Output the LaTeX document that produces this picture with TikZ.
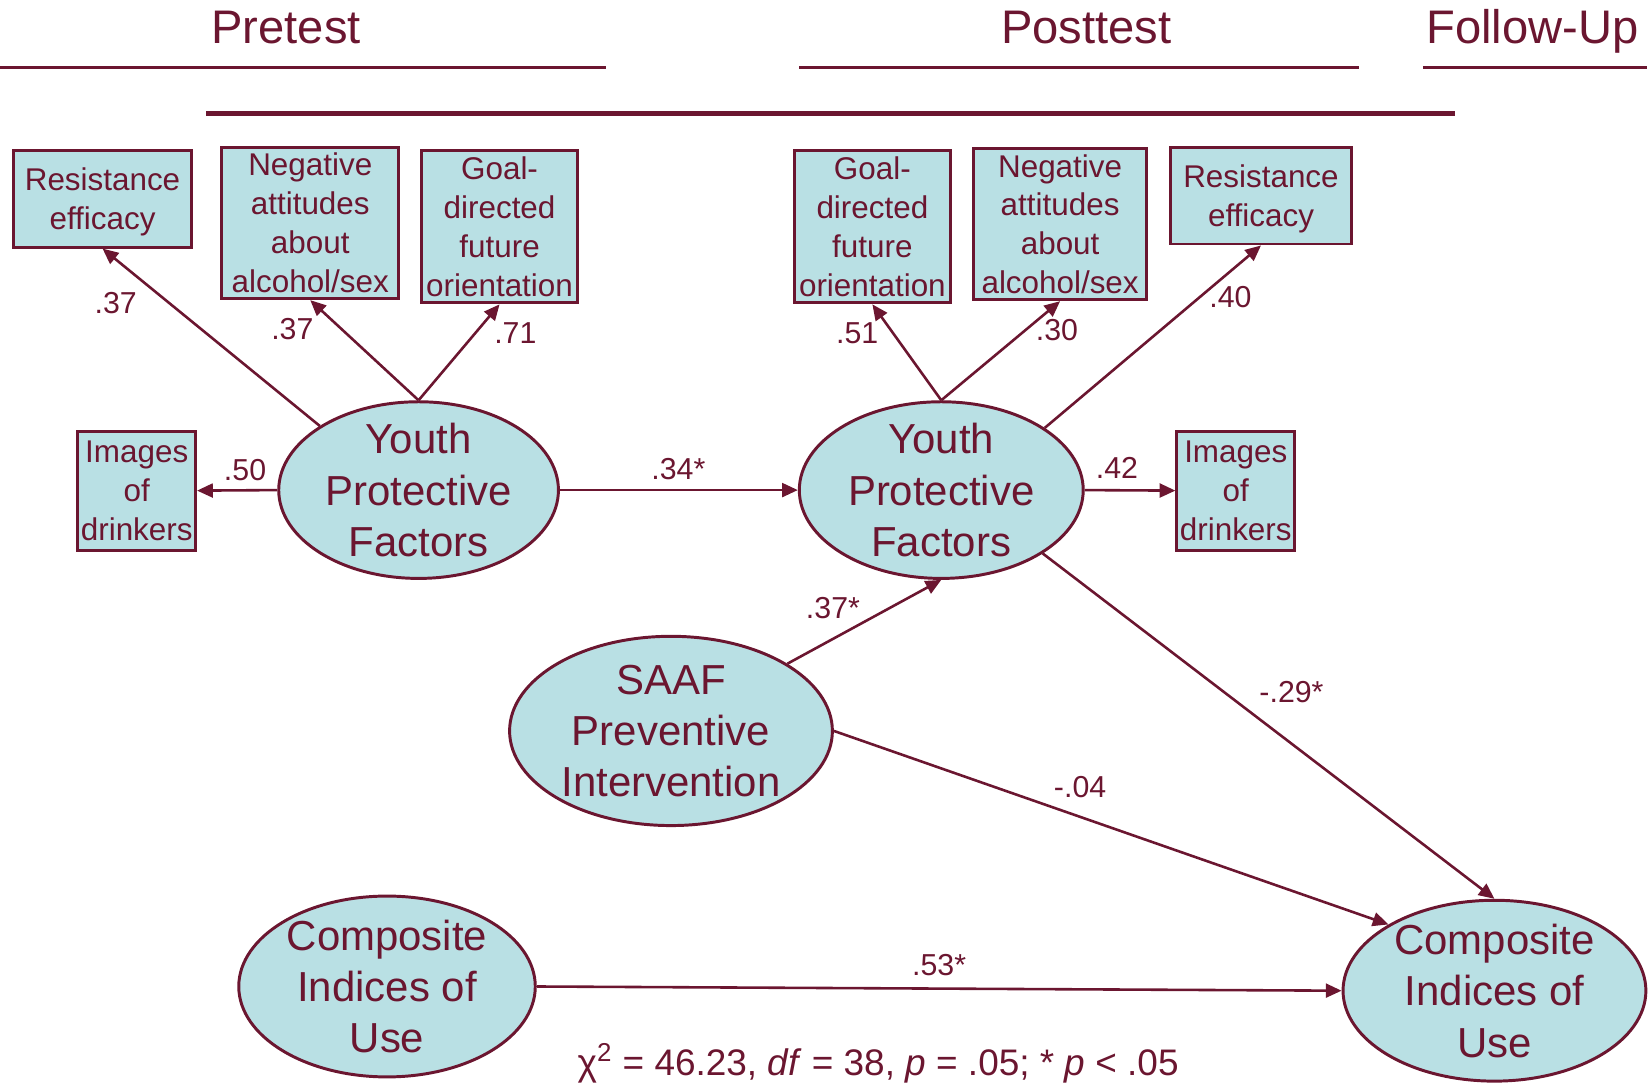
\documentclass[tikz,border=0pt]{standalone}
\usepackage{fontspec}
\setmainfont{Liberation Sans}
\usetikzlibrary{shapes.geometric,arrows.meta}
\definecolor{mar}{RGB}{107,22,48}
\definecolor{lb}{RGB}{185,224,228}
\begin{document}
\begin{tikzpicture}[x=0.02cm,y=-0.02cm,
 box/.style={draw=mar,fill=lb,line width=1.6pt,rectangle,inner sep=0pt,align=center,text=mar,font=\fontsize{17}{21}\selectfont},
 lat/.style={draw=mar,fill=lb,line width=1.6pt,ellipse,inner sep=0pt},
 ltxt/.style={text=mar,align=center,inner sep=0pt,font=\fontsize{22.7}{27.8}\selectfont},
 arr/.style={draw=mar,line width=1.4pt,-{Triangle[length=8.5pt,width=7.5pt]}},
 coef/.style={text=mar,font=\fontsize{16.4}{19}\selectfont,inner sep=0pt},
 hdr/.style={text=mar,font=\fontsize{25.5}{30}\selectfont,inner sep=0pt,anchor=base},
 hrule/.style={draw=mar,line width=1.6pt},
 thickrule/.style={draw=mar,line width=3pt}]
\useasboundingbox (0,0) rectangle (1567,1033);

% headers
\node[hdr] (pre) at (272,41) {Pretest};
\node[hdr] (post) at (1033,41) {Posttest};
\node[hdr] (fol) at (1457,41) {Follow-Up};
\coordinate (r1a) at (0,64); \coordinate (r1b) at (576,64);
\coordinate (r2a) at (760,64); \coordinate (r2b) at (1292,64);
\coordinate (r3a) at (1353,64); \coordinate (r3b) at (1566,64);
\coordinate (r4a) at (196,108); \coordinate (r4b) at (1383,108);
\draw[hrule] (r1a) -- (r1b);
\draw[hrule] (r2a) -- (r2b);
\draw[hrule] (r3a) -- (r3b);
\draw[thickrule] (r4a) -- (r4b);

% pretest indicators
\node[box,text depth=0pt,minimum width=3.38cm,minimum height=1.84cm] (resL) at (97.5,189) {Resistance\\efficacy};
\node[box,minimum width=3.36cm,minimum height=2.88cm] (negL) at (295,212) {Negative\\attitudes\\about\\alcohol/sex};
\node[box,minimum width=2.96cm,minimum height=2.9cm] (goalL) at (475,215.5) {Goal-\\directed\\future\\orientation};
\node[box,minimum width=2.24cm,minimum height=2.26cm] (imgL) at (130,466.5) {Images\\of\\drinkers};

% posttest indicators
\node[box,minimum width=2.98cm,minimum height=2.9cm] (goalR) at (829.5,215.5) {Goal-\\directed\\future\\orientation};
\node[box,minimum width=3.28cm,minimum height=2.88cm] (negR) at (1008,213) {Negative\\attitudes\\about\\alcohol/sex};
\node[box,text depth=0pt,minimum width=3.44cm,minimum height=1.84cm] (resR) at (1199,186) {Resistance\\efficacy};
\node[box,minimum width=2.24cm,minimum height=2.26cm] (imgR) at (1175,466.5) {Images\\of\\drinkers};

% latent variables
\node[lat,minimum width=5.32cm,minimum height=3.36cm,label={[ltxt]center:Youth\\Protective\\Factors}] (ypfL) at (398,466) {};
\node[lat,minimum width=5.4cm,minimum height=3.36cm,label={[ltxt]center:Youth\\Protective\\Factors}] (ypfR) at (895,466) {};
\node[lat,minimum width=6.14cm,minimum height=3.6cm,label={[ltxt]center:SAAF\\Preventive\\Intervention}] (saaf) at (638,695) {};
\node[lat,minimum width=5.64cm,minimum height=3.44cm,label={[ltxt]center:Composite\\Indices of\\Use}] (compL) at (368,938) {};
\node[lat,minimum width=5.76cm,minimum height=3.44cm,label={[ltxt]center:Composite\\Indices of\\Use}] (compR) at (1421,942) {};

% arrows
\draw[arr] (ypfL.147.7) -- (resL.south);
\draw[arr] (ypfL.north) -- (negL.south);
\draw[arr] (ypfL.north) -- (goalL.south);
\draw[arr] (ypfL.west) -- (imgL.east);
\draw[arr] (ypfL.east) -- (ypfR.west);
\draw[arr] (ypfR.north) -- (goalR.south);
\draw[arr] (ypfR.north) -- (negR.south);
\draw[arr] (ypfR.31.7) -- (resR.south);
\draw[arr] (ypfR.east) -- (imgR.west);
\draw[arr] (saaf.30.6) -- (ypfR.south);
\draw[arr] (ypfR.-32.2) -- (compR.north);
\draw[arr] (saaf.east) -- (compR.148.5);
\draw[arr] (compL.east) -- (compR.west);

% coefficients
\node[coef] (c1) at (110,288) {.37};
\node[coef] (c2) at (278,313) {.37};
\node[coef] (c3) at (490,317) {.71};
\node[coef] (c4) at (233,447) {.50};
\node[coef] (c5) at (645,446) {.34*};
\node[coef] (c6) at (815,317) {.51};
\node[coef] (c7) at (1005,314) {.30};
\node[coef] (c8) at (1170,282) {.40};
\node[coef] (c9) at (1062,445) {.42};
\node[coef] (c10) at (792,578) {.37*};
\node[coef] (c11) at (1228,658) {-.29*};
\node[coef] (c12) at (1027,748) {-.04};
\node[coef] (c13) at (893,918) {.53*};

% fit
\node[text=mar,font=\fontsize{20}{24}\selectfont,inner sep=0pt,anchor=base] (fit) at (835,1023) {χ\textsuperscript{2} = 46.23, \textit{df} = 38, \textit{p} = .05; * \textit{p} < .05};
\end{tikzpicture}
\end{document}
